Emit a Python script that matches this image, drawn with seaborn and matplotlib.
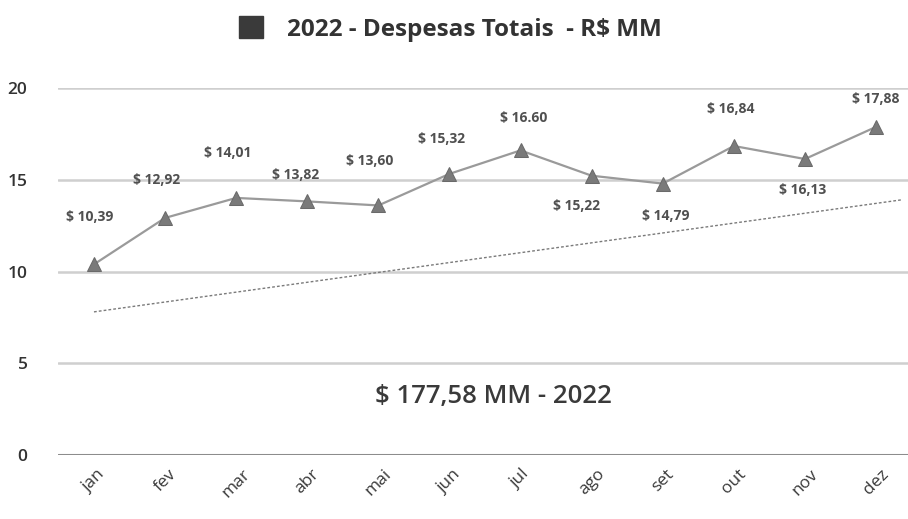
import matplotlib
matplotlib.use("Agg")
import matplotlib.pyplot as plt
import seaborn as sns
import pandas as pd
from matplotlib.patches import Patch

months = ["jan", "fev", "mar", "abr", "mai", "jun", "jul", "ago", "set", "out", "nov", "dez"]
despesas = [10.39, 12.92, 14.01, 13.82, 13.60, 15.32, 16.60, 15.22, 14.79, 16.84, 16.13, 17.88]
labels = ["$ 10,39", "$ 12,92", "$ 14,01", "$ 13,82", "$ 13,60", "$ 15,32",
          "$ 16.60", "$ 15,22", "$ 14,79", "$ 16,84", "$ 16,13", "$ 17,88"]
trend_x = [0, 11.35]
trend_y = [7.8, 13.9]
total_text = "$ 177,58 MM - 2022"
title_text = "2022 - Despesas Totais  - R$ MM"
yticks = [0, 5, 10, 15, 20]

# label offsets in pixels (dx, dy)
offsets = [(-4, 47), (-8, 38), (-8, 45), (-12, 26), (-9, 44), (-8, 35),
           (3, 32), (-15, -30), (3, -32), (-3, 37), (-2, -31), (0, 28)]

sns.set_theme(style="white")
plt.rcParams["font.family"] = ["Open Sans", "DejaVu Sans"]

df = pd.DataFrame({"x": range(len(months)), "y": despesas})

fig = plt.figure(figsize=(9.08, 5.19), dpi=100)
ax = fig.add_axes([58 / 908, (519 - 455) / 519, 1 - 58 / 908, (455 - 88) / 519])

for t in yticks:
    if t == 0:
        ax.axhline(t, color="#8c8c8c", lw=2.2, zorder=1)
    else:
        ax.axhline(t, color="#cfcfcf", lw=1.8, zorder=1)

ax.plot(trend_x, trend_y, color="#7a7a7a", lw=1.0, ls=(0, (2, 1.5)), zorder=2)

sns.lineplot(data=df, x="x", y="y", ax=ax, color="#9a9a9a", lw=1.6,
             marker="^", markersize=10, markerfacecolor="#7a7a7a",
             markeredgecolor="#6a6a6a", zorder=3)

for i, (v, lab) in enumerate(zip(despesas, labels)):
    dx, dy = offsets[i]
    ax.annotate(lab, (i, v), xytext=(dx, dy), textcoords="offset pixels",
                ha="center", va="center", fontsize=10, color="#505050",
                fontweight="bold")

ax.text((493 - 58) / 850, (455 - 397) / 367, total_text, transform=ax.transAxes,
        ha="center", va="center", fontsize=18.5, color="#3a3a3a", fontweight="semibold")

ax.set_xlim(-0.506, 11.45)
ax.set_ylim(0, 20)
ax.set_xticks(range(len(months)))
ax.set_xticklabels(months, rotation=45, ha="center", fontsize=12.5, color="#3a3a3a")
ax.set_yticks(yticks)
ax.set_yticklabels([str(t) for t in yticks], fontsize=12.5, color="#333333", fontweight="semibold")
ax.tick_params(axis="y", pad=22, length=0)
ax.tick_params(axis="x", pad=8, length=0)
ax.set_xlabel("")
ax.set_ylabel("")
for s in ax.spines.values():
    s.set_visible(False)

handle = Patch(facecolor="#3a3a3a", edgecolor="#3a3a3a")
fig.legend([handle], [title_text], loc="center", bbox_to_anchor=(0.496, 1 - 29 / 519),
           frameon=False, handlelength=1.0, handleheight=1.0, handletextpad=1.0,
           prop={"size": 17.5, "weight": "bold"}, labelcolor="#333333")

fig.savefig("out.png", dpi=100)
